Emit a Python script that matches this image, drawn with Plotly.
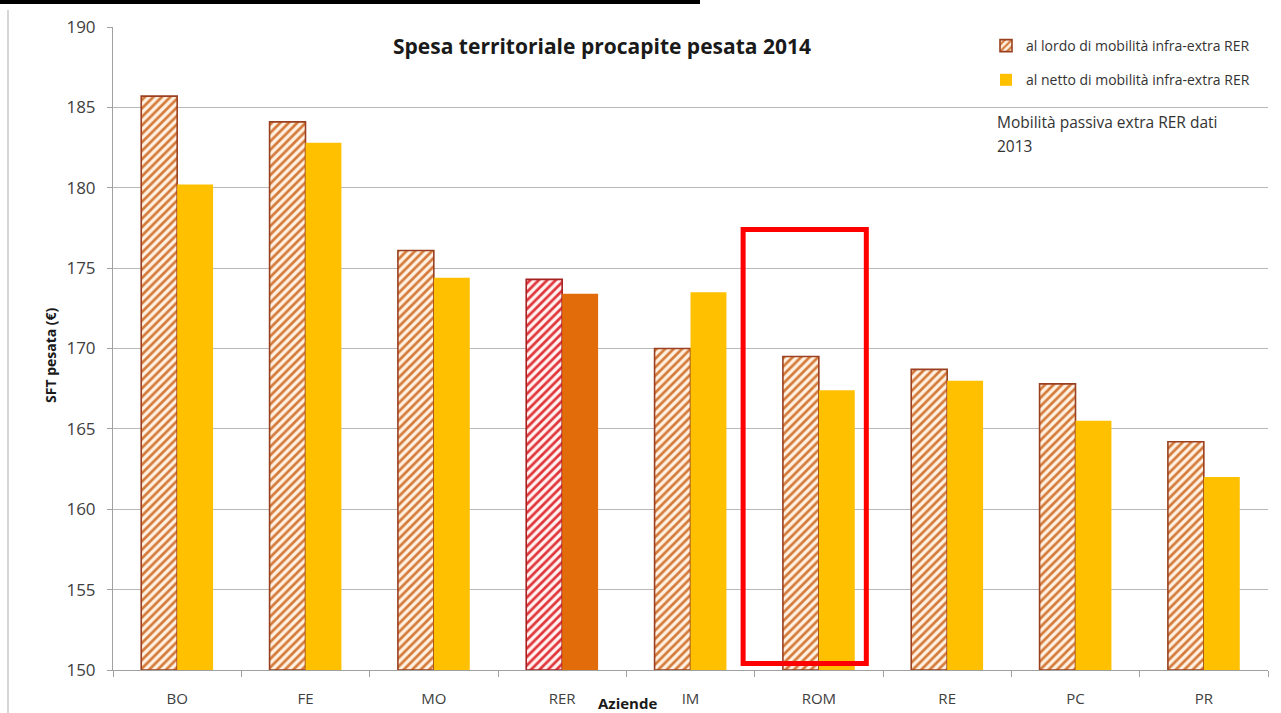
import plotly.graph_objects as go

categories = ["BO", "FE", "MO", "RER", "IM", "ROM", "RE", "PC", "PR"]
lordo = [185.7, 184.1, 176.1, 174.3, 170.0, 169.5, 168.7, 167.8, 164.2]
netto = [180.2, 182.8, 174.4, 173.4, 173.5, 167.4, 168.0, 165.5, 162.0]
series_names = ["al lordo di mobilità infra-extra RER", "al netto di mobilità infra-extra RER"]
y_ticks = [150, 155, 160, 165, 170, 175, 180, 185, 190]
note_lines = ["Mobilità passiva extra RER dati", "2013"]
highlight = "RER"

netto_color = ["#E36C0A" if c == highlight else "#FFC000" for c in categories]

font_main = "Open Sans, Liberation Sans, sans-serif"

main_idx = [i for i, c in enumerate(categories) if c != highlight]
hl_idx = [i for i, c in enumerate(categories) if c == highlight]

fig = go.Figure()
fig.add_trace(go.Bar(
    x=[categories[i] for i in main_idx], y=[lordo[i] - 150 for i in main_idx], base=150,
    name=series_names[0], legendgroup="a", offsetgroup="lordo",
    marker=dict(
        color="#FFF1E2",
        pattern=dict(shape="/", fgcolor="#D47A3A", bgcolor="#FFF1E2",
                     size=6, solidity=0.45, fillmode="replace"),
        line=dict(color="#9A4020", width=1.6),
    ),
))
fig.add_trace(go.Bar(
    x=[categories[i] for i in hl_idx], y=[lordo[i] - 150 for i in hl_idx], base=150,
    name=series_names[0], legendgroup="a", offsetgroup="lordo", showlegend=False,
    marker=dict(
        color="#FFF2F0",
        pattern=dict(shape="/", fgcolor="#E0343A", bgcolor="#FFF2F0",
                     size=6, solidity=0.45, fillmode="replace"),
        line=dict(color="#A82020", width=1.6),
    ),
))
fig.add_trace(go.Bar(
    x=categories, y=[v - 150 for v in netto], base=150, name=series_names[1],
    legendgroup="b", offsetgroup="netto",
    marker=dict(color=netto_color, line=dict(width=0)),
))

fig.update_layout(
    width=1281, height=713,
    margin=dict(l=113, r=13, t=27, b=43),
    paper_bgcolor="white", plot_bgcolor="white",
    barmode="group", bargap=0.44, bargroupgap=0,
    font=dict(family=font_main, color="#404040"),
    title=dict(text="<b>Spesa territoriale procapite pesata 2014</b>",
               x=602 / 1281, xanchor="center", y=1 - 47 / 713, yanchor="middle",
               font=dict(size=21, color="#1a1a1a", family=font_main)),
    showlegend=True,
    legend=dict(x=(986 - 113) / 1155, xanchor="left", y=1 - (30 - 27) / 643, yanchor="top",
                bgcolor="rgba(0,0,0,0)", font=dict(size=14, color="#333333"),
                tracegroupgap=13, itemwidth=30),
    xaxis=dict(type="category", categoryorder="array", categoryarray=categories,
               showline=True, linecolor="#A0A0A0", linewidth=1, automargin=False,
               ticks="outside", tickson="boundaries", ticklen=6, tickcolor="#A0A0A0",
               ticklabelstandoff=15,
               tickfont=dict(size=15, color="#404040"), showgrid=False),
    yaxis=dict(range=[150, 190], tickvals=y_ticks, showline=True, linecolor="#A0A0A0",
               linewidth=1, ticks="outside", ticklen=5, tickcolor="#A0A0A0",
               ticklabelstandoff=8, automargin=False,
               showgrid=True, gridcolor="#B8B8B8", gridwidth=1, zeroline=False,
               tickfont=dict(size=17, color="#404040")),
)

fig.add_annotation(text="<b>SFT pesata (€)</b>", xref="paper", yref="paper",
                   x=(51 - 113) / 1155, xanchor="center", y=(670 - 355) / 643, yanchor="middle",
                   textangle=-90, showarrow=False,
                   font=dict(size=14, color="#1a1a1a"))
fig.add_annotation(text="<b>Aziende</b>", xref="paper", yref="paper",
                   x=(627 - 113) / 1155, xanchor="center", y=(670 - 703) / 643, yanchor="middle",
                   showarrow=False, font=dict(size=15, color="#1a1a1a"))
for i, line in enumerate(note_lines):
    fig.add_annotation(text=line, xref="paper", yref="paper",
                       x=(995 - 113) / 1155, xanchor="left", y=(670 - (122 + 24 * i)) / 643,
                       yanchor="middle", align="left", showarrow=False,
                       font=dict(size=15.5, color="#333333"))

# highlight box around ROM
fig.add_shape(type="rect", xref="x", yref="y", x0=4.41, x1=5.37, y0=150.4, y1=177.4,
              line=dict(color="#FF0000", width=5), fillcolor="rgba(0,0,0,0)")
# top black band and left frame line
fig.add_shape(type="rect", xref="paper", yref="paper", x0=-113 / 1155, x1=(700 - 113) / 1155,
              y0=1 + (27 - 4) / 643, y1=1 + 27 / 643, line=dict(width=0), fillcolor="black")
fig.add_shape(type="line", xref="paper", yref="paper", x0=(8 - 113) / 1155, x1=(8 - 113) / 1155,
              y0=-43 / 643, y1=1 + (27 - 10) / 643, line=dict(color="#C8C8C8", width=1.5))

fig.write_html("out.html", config={"displayModeBar": False},
               post_script="document.body.style.margin='0px';")
